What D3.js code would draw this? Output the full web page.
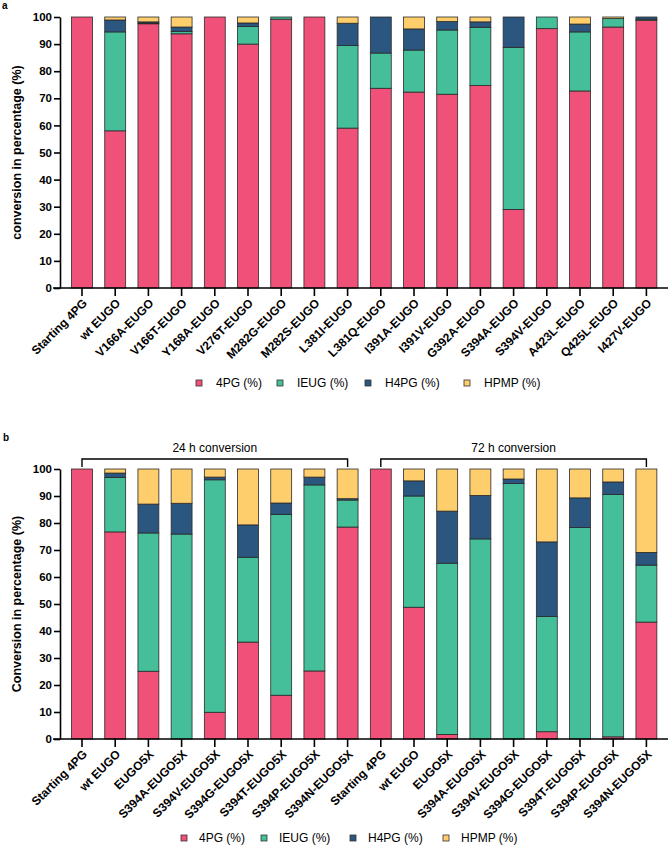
<!DOCTYPE html>
<html>
<head>
<meta charset="utf-8">
<script src="https://cdn.jsdelivr.net/npm/d3@7"></script>
<style>
  body { margin: 0; background: #fff; }
  text { font-family: "Liberation Sans", Arial, sans-serif; }
</style>
</head>
<body>
<svg id="chart" width="669" height="845"></svg>
<script>
// panel a
var catsA = ["Starting 4PG", "wt EUGO", "V166A-EUGO", "V166T-EUGO", "Y168A-EUGO", "V276T-EUGO",
    "M282G-EUGO", "M282S-EUGO", "L381I-EUGO", "L381Q-EUGO", "I391A-EUGO", "I391V-EUGO",
    "G392A-EUGO", "S394A-EUGO", "S394V-EUGO", "A423L-EUGO", "Q425L-EUGO", "I427V-EUGO"];
var pgA   = [100, 58, 97.5, 93.8, 100, 90, 99.2, 100, 59, 73.7, 72.3, 71.5, 74.7, 29, 95.7, 72.7, 96.3, 98.8];
var ieugA = [0, 36.5, 0.3, 0.9, 0, 6.5, 0.8, 0, 30.5, 13, 15.5, 23.7, 21.5, 59.8, 4.3, 21.8, 3.1, 0.4];
var h4pgA = [0, 4.4, 0.4, 1.6, 0, 1.3, 0, 0, 8.2, 13.3, 7.8, 3.1, 2, 11.2, 0, 2.9, 0, 0.8];
var hpmpA = [0, 1.1, 1.8, 3.7, 0, 2.2, 0, 0, 2.3, 0, 4.4, 1.7, 1.8, 0, 0, 2.6, 0.6, 0];

// panel b
var catsB = ["Starting 4PG", "wt EUGO", "EUGO5X", "S394A-EUGO5X", "S394V-EUGO5X", "S394G-EUGO5X",
    "S394T-EUGO5X", "S394P-EUGO5X", "S394N-EUGO5X",
    "Starting 4PG", "wt EUGO", "EUGO5X", "S394A-EUGO5X", "S394V-EUGO5X", "S394G-EUGO5X",
    "S394T-EUGO5X", "S394P-EUGO5X", "S394N-EUGO5X"];
var pgB   = [100, 76.7, 25.1, 0, 9.9, 35.9, 16.2, 25.2, 78.5, 100, 48.8, 1.7, 0, 0, 2.7, 0, 0.8, 43.3];
var ieugB = [0, 20.2, 51.2, 75.9, 86.1, 31.4, 67, 68.9, 10, 0, 41.2, 63.4, 74.1, 94.6, 42.7, 78.3, 89.8, 21.1];
var h4pgB = [0, 1.6, 10.7, 11.4, 1, 12, 4.2, 2.9, 0.5, 0, 5.6, 19.3, 16.1, 1.7, 27.6, 11, 4.6, 4.7];
var hpmpB = [0, 1.5, 13, 12.7, 3, 20.7, 12.6, 3, 11, 0, 4.4, 15.6, 9.8, 3.7, 27, 10.7, 4.8, 30.9];

var groupsB = ["24 h conversion", "72 h conversion"];
var seriesNames = ["4PG (%)", "IEUG (%)", "H4PG (%)", "HPMP (%)"];
var colors = ["#EF5179", "#45BF9A", "#2B567F", "#FDCE6B"];
var yTicks = [0, 10, 20, 30, 40, 50, 60, 70, 80, 90, 100];

var svg = d3.select("#chart");

function drawPanel(cfg) {
    var g = svg.append("g");
    var rows = cfg.cats.map(function (c, i) {
        return { i: i, s0: cfg.vals[0][i], s1: cfg.vals[1][i], s2: cfg.vals[2][i], s3: cfg.vals[3][i] };
    });

    var x = d3.scaleBand()
        .domain(d3.range(cfg.cats.length))
        .range([65.4, 663])
        .paddingInner(0.37)
        .paddingOuter(0.185);
    var y = d3.scaleLinear().domain([0, 100]).range([cfg.bottom, cfg.top]);

    var stack = d3.stack().keys(["s0", "s1", "s2", "s3"]);
    var layers = stack(rows);

    g.selectAll("g.layer")
        .data(layers)
        .enter().append("g")
        .attr("class", "layer")
        .attr("fill", function (d, k) { return colors[k]; })
        .selectAll("rect")
        .data(function (d) { return d.filter(function (p) { return p[1] - p[0] > 0; }); })
        .enter().append("rect")
        .attr("x", function (p) { return x(p.data.i); })
        .attr("width", x.bandwidth())
        .attr("y", function (p) { return y(p[1]); })
        .attr("height", function (p) { return y(p[0]) - y(p[1]); })
        .attr("stroke", "#2a2a2a")
        .attr("stroke-width", 0.8);

    // y axis
    var yAxis = g.append("g")
        .attr("transform", "translate(60,0)")
        .call(d3.axisLeft(y).tickValues(yTicks).tickSize(6).tickSizeOuter(0).tickPadding(2));
    yAxis.select(".domain").attr("stroke-width", 1.6);
    yAxis.selectAll(".tick line").attr("stroke-width", 1.6);
    yAxis.selectAll(".tick text")
        .style("font-size", "11.5px")
        .style("font-weight", "bold")
        .attr("fill", "#000");

    // x axis
    var xAxis = g.append("g")
        .attr("transform", "translate(0," + cfg.bottom + ")")
        .call(d3.axisBottom(x).tickSize(8).tickFormat(function (i) { return cfg.cats[i]; }));
    xAxis.select(".domain").remove();
    xAxis.append("line")
        .attr("x1", 53).attr("x2", 668)
        .attr("stroke", "#000").attr("stroke-width", 1.6);
    xAxis.selectAll(".tick line").attr("stroke-width", 1.6);
    xAxis.selectAll(".tick text")
        .attr("x", 0).attr("y", 0).attr("dy", "0.35em")
        .attr("transform", "translate(3,13) rotate(-45)")
        .style("text-anchor", "end")
        .style("font-size", "12px")
        .style("font-weight", "bold")
        .attr("fill", "#000");

    // axis title
    g.append("text")
        .attr("transform", "translate(21," + ((cfg.top + cfg.bottom) / 2) + ") rotate(-90)")
        .attr("text-anchor", "middle")
        .style("font-size", "12.5px")
        .style("font-weight", "bold")
        .text(cfg.title);

    // panel letter
    g.append("text")
        .attr("x", cfg.letterX).attr("y", cfg.letterY)
        .style("font-size", "10px")
        .style("font-weight", "bold")
        .text(cfg.letter);

    // legend
    var leg = g.selectAll("g.leg")
        .data(seriesNames)
        .enter().append("g")
        .attr("class", "leg")
        .attr("transform", function (d, k) { return "translate(" + cfg.legX[k] + "," + cfg.legY + ")"; });
    leg.append("rect")
        .attr("x", 0).attr("y", -3)
        .attr("width", 6).attr("height", 6)
        .attr("fill", function (d, k) { return colors[k]; })
        .attr("stroke", "#333").attr("stroke-width", 0.8);
    leg.append("text")
        .attr("x", cfg.legGap).attr("dy", "0.35em")
        .style("font-size", "12px")
        .text(function (d) { return d; });

    return x;
}

drawPanel({
    cats: catsA, vals: [pgA, ieugA, h4pgA, hpmpA],
    top: 17, bottom: 288, title: "conversion in percentage (%)",
    letter: "a", letterX: 2, letterY: 9,
    legX: [196, 277, 365, 464], legY: 383, legGap: 20
});

var xB = drawPanel({
    cats: catsB, vals: [pgB, ieugB, h4pgB, hpmpB],
    top: 469, bottom: 739, title: "Conversion in percentage (%)",
    letter: "b", letterX: 3, letterY: 441,
    legX: [181, 261, 350, 443], legY: 838, legGap: 18
});

// group brackets for panel b
var half = catsB.length / 2;
groupsB.forEach(function (name, k) {
    var x1 = xB(k * half) + xB.bandwidth() / 2;
    var x2 = xB(k * half + half - 1) + xB.bandwidth() / 2;
    svg.append("path")
        .attr("d", "M" + x1 + ",467V459H" + x2 + "V467")
        .attr("fill", "none")
        .attr("stroke", "#000")
        .attr("stroke-width", 1.4);
    svg.append("text")
        .attr("x", (x1 + x2) / 2).attr("y", 452)
        .attr("text-anchor", "middle")
        .style("font-size", "12px")
        .text(name);
});
</script>
</body>
</html>
